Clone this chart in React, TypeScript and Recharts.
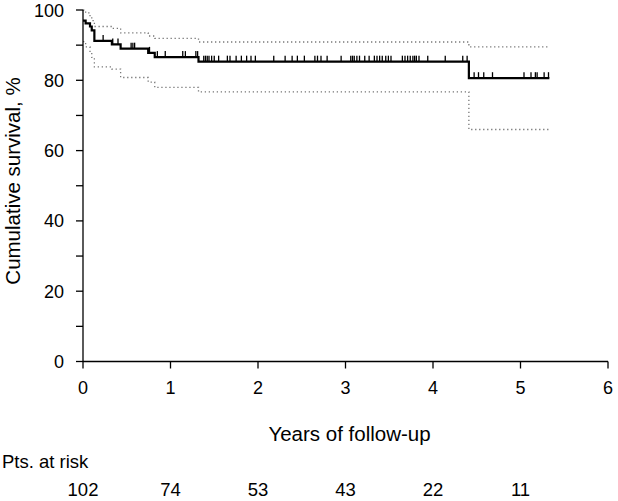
import React from 'react'
import { ComposedChart, Line, Scatter, XAxis, YAxis } from 'recharts'

// Kaplan-Meier estimate (step times in years, survival in %)
const stepTimes = [0, 0.03, 0.08, 0.1, 0.13, 0.33, 0.43, 0.745, 0.82, 1.32, 4.41, 5.33]
const survival = [97, 96.2, 95.3, 94.2, 91.2, 90.2, 89, 87.8, 86.6, 85.3, 80.6, 80.6]
const upperCI = [100, 99.2, 98.2, 97, 95.3, 94.8, 93.5, 92.6, 91.9, 90.9, 89.5, 89.5]
const lowerCI = [91, 89.5, 88, 86.5, 83.8, 83.2, 80.8, 79.5, 78, 76.7, 66, 66]

// censored observations (years)
const censorTimes = [
  0.23, 0.34, 0.4, 0.55, 0.57, 0.59, 0.76, 0.85, 0.94, 1.14, 1.17, 1.29, 1.31,
  1.38, 1.4, 1.42, 1.44, 1.47, 1.5, 1.55, 1.65, 1.68, 1.75, 1.81, 1.87, 1.92, 1.97,
  2.18, 2.31, 2.39, 2.45, 2.53, 2.65, 2.68, 2.72, 2.79, 2.95, 3.06, 3.08, 3.1, 3.13,
  3.16, 3.22, 3.27, 3.33, 3.36, 3.39, 3.42, 3.46, 3.49, 3.52, 3.65, 3.68, 3.71, 3.74,
  3.77, 3.79, 3.81, 3.84, 3.94, 4.14, 4.34, 4.39, 4.47, 4.52, 4.58, 4.68, 5.04, 5.12,
  5.17, 5.19, 5.27, 5.32,
]

const xTicks = [0, 1, 2, 3, 4, 5, 6]
const yTicks = [0, 10, 20, 30, 40, 50, 60, 70, 80, 90, 100]
const riskYears = [0, 1, 2, 3, 4, 5]
const atRisk = [102, 74, 53, 43, 22, 11]

const font = '"Liberation Sans", Arial, Helvetica, sans-serif'

const kmData = stepTimes.map((t, i) => ({ t, s: survival[i] }))
const upperData = stepTimes.map((t, i) => ({ t, s: upperCI[i] }))
const lowerData = stepTimes.map((t, i) => ({ t, s: lowerCI[i] }))

const survivalAt = (t: number) => {
  let v = survival[0]
  stepTimes.forEach((st, i) => {
    if (st <= t) v = survival[i]
  })
  return v
}
const censorData = censorTimes.map((t) => ({ t, s: survivalAt(t) }))

const CensorMark = (props: any) => {
  const { cx, cy } = props
  return <line x1={cx} x2={cx} y1={cy} y2={cy - 6} stroke="#000" strokeWidth={1.3} />
}

// year label plus the number at risk underneath it
const YearTick = (props: any) => {
  const { x, y, payload } = props
  const i = riskYears.indexOf(payload.value)
  return (
    <g>
      <text x={x} y={y} dy="0.71em" textAnchor="middle" fill="#000" fontSize={18} fontFamily={font}>
        {payload.value}
      </text>
      {i >= 0 && (
        <text x={x} y={496} textAnchor="middle" fill="#000" fontSize={18.5} fontFamily={font}>
          {atRisk[i]}
        </text>
      )}
    </g>
  )
}

export default function App() {
  return (
    <div style={{ position: 'absolute', left: 0, top: 0, width: 618, height: 501, background: '#fff' }}>
      <ComposedChart width={618} height={501} margin={{ top: 10, right: 10, bottom: 0, left: 0 }}>
        <XAxis
          dataKey="t"
          type="number"
          domain={[0, 6]}
          ticks={xTicks}
          allowDataOverflow
          height={139.5}
          stroke="#000"
          strokeWidth={1.3}
          tickSize={7}
          tickMargin={13}
          tick={YearTick}
          label={{
            content: (p: any) => {
              const vb = p.viewBox
              return (
                <g>
                  <text x={vb.x + vb.width / 2 + 4} y={vb.y + 74} textAnchor="middle" dominantBaseline="middle" fill="#000" fontSize={20.5} fontFamily={font}>
                    Years of follow-up
                  </text>
                  <text x={2} y={468} fill="#000" fontSize={18.5} fontFamily={font}>
                    Pts. at risk
                  </text>
                </g>
              )
            },
          }}
        />
        <YAxis
          type="number"
          domain={[0, 100]}
          ticks={yTicks}
          width={83}
          stroke="#000"
          strokeWidth={1.3}
          tickSize={7}
          tickMargin={12}
          tickFormatter={(v) => (v % 20 === 0 ? String(v) : '')}
          tick={{ fill: '#000', fontSize: 18, fontFamily: font }}
          label={{
            content: () => (
              <text x={15} y={181} transform="rotate(-90, 15, 181)" textAnchor="middle" dominantBaseline="middle" fill="#000" fontSize={20.5} fontFamily={font}>
                Cumulative survival, %
              </text>
            ),
          }}
        />
        <Line data={upperData} dataKey="s" type="stepAfter" stroke="#777" strokeWidth={1.3} strokeDasharray="1.3 2.7" dot={false} isAnimationActive={false} />
        <Line data={lowerData} dataKey="s" type="stepAfter" stroke="#777" strokeWidth={1.3} strokeDasharray="1.3 2.7" dot={false} isAnimationActive={false} />
        <Line data={kmData} dataKey="s" type="stepAfter" stroke="#000" strokeWidth={2.2} dot={false} isAnimationActive={false} />
        <Scatter data={censorData} dataKey="s" shape={CensorMark} isAnimationActive={false} />
      </ComposedChart>
    </div>
  )
}
